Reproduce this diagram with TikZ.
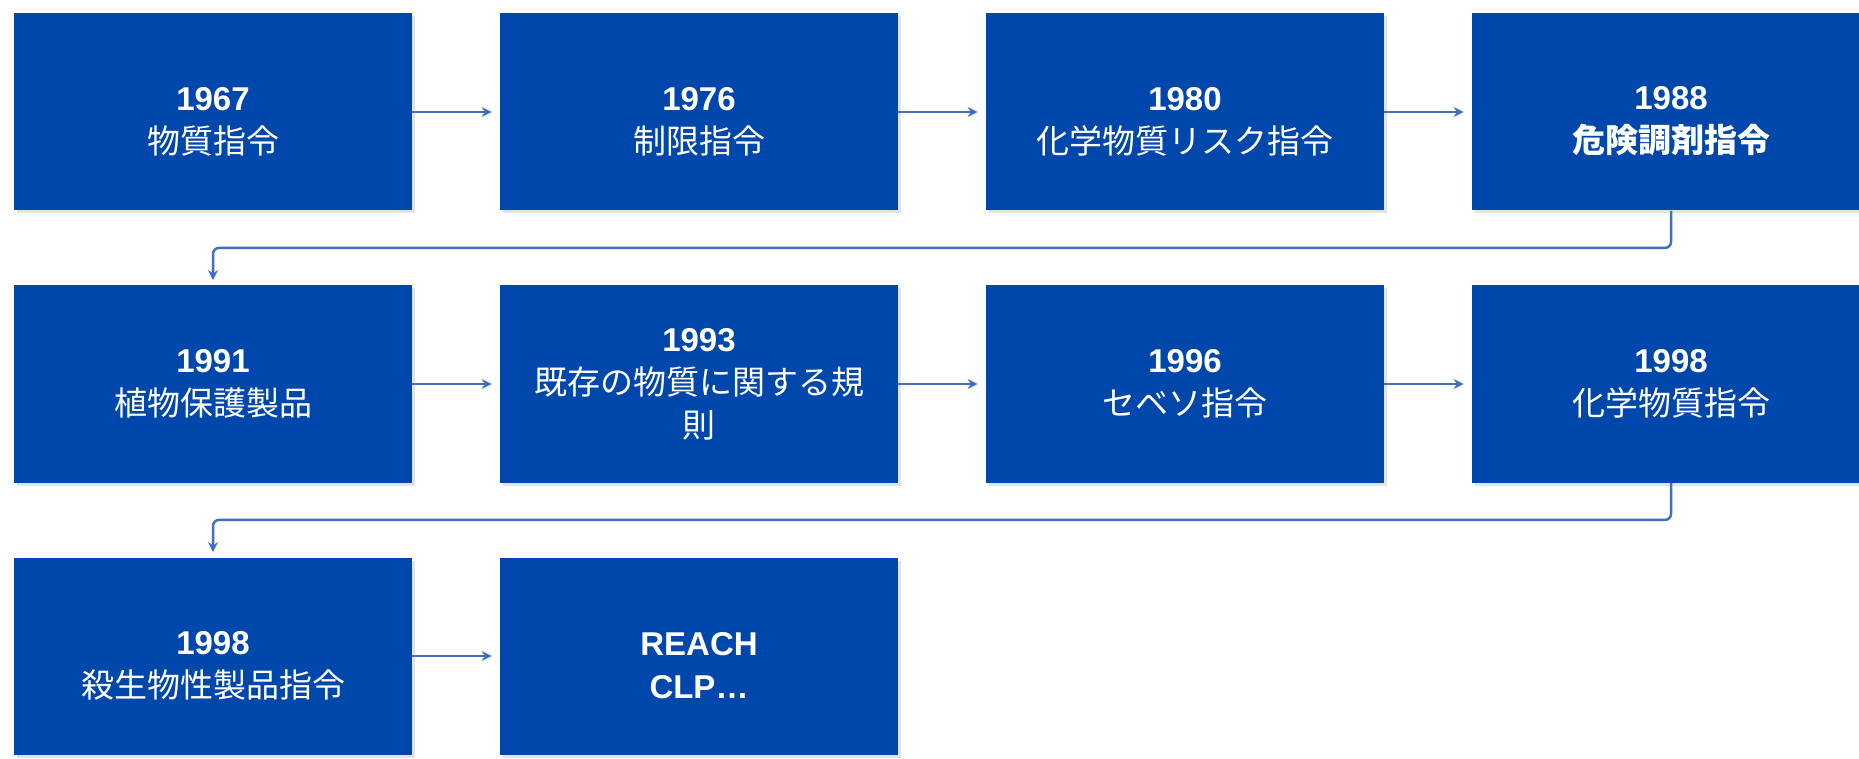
\documentclass[tikz,border=0pt]{standalone}
\usepackage{fontspec}
\setmainfont{Liberation Sans}
\newfontfamily\jp{Noto Sans CJK JP}
\usepackage{tikz}
\usetikzlibrary{arrows.meta,shadows}
\usetikzlibrary{positioning}
\definecolor{boxblue}{HTML}{0047AB}
\definecolor{lineblue}{HTML}{426FC2}
\newcommand{\lowyr}[1]{\rule{0pt}{21pt}\textbf{#1}}
\tikzset{every box/.style={rectangle, fill=boxblue, text=white, align=center,
    minimum width=199pt, minimum height=98.5pt, inner sep=0pt,
    font=\fontsize{16.5pt}{21.5pt}\selectfont,
    drop shadow={opacity=0.22, shadow xshift=1.5pt, shadow yshift=-1.5pt}},
  link/.style={draw=lineblue, line width=1.25pt, -{Stealth[length=5pt,width=5pt]}}
}

\begin{document}
\begin{tikzpicture}[node distance=136pt and 243pt, on grid]
      \useasboundingbox (0,0) rectangle (929.5pt,-379.5pt);
      \node[every box] (b_1) at (106.5pt,-56pt) {\lowyr{1967}\\{\jp 物質指令}};
      \node[every box] (b_2) [right=of b_1] {\lowyr{1976}\\{\jp 制限指令}};
      \node[every box] (b_3) [right=of b_2] {\lowyr{1980}\\{\jp 化学物質リスク指令}};
      \node[every box] (b_4) [right=of b_3] {\lowyr{1988}\\{\jp\bfseries 危険調剤指令}};
      \node[every box] (b_5) [below=of b_1] {\bfseries 1991\\{\jp 植物保護製品}};
      \node[every box] (b_6) [right=of b_5] {\bfseries 1993\\{\jp 既存の物質に関する規}\\{\jp 則}};
      \node[every box] (b_7) [right=of b_6] {\bfseries 1996\\{\jp セベソ指令}};
      \node[every box] (b_8) [right=of b_7] {\bfseries 1998\\{\jp 化学物質指令}};
      \node[every box] (b_9) [below=of b_5] {\lowyr{1998}\\{\jp 殺生物性製品指令}};
      \node[every box] (b_10) [right=of b_9] {\lowyr{REACH}\\\bfseries CLP\ldots};

      \path[link, shorten >=4pt] (b_1) edge (b_2)
                (b_2) edge (b_3)
                (b_3) edge (b_4)
                (b_5) edge (b_6)
                (b_6) edge (b_7)
                (b_7) edge (b_8)
                (b_9) edge (b_10);
      \draw[link, rounded corners=3pt, shorten >=2.5pt]
            (b_4.south) -- ++(0,-18.5pt) -| (b_5.north);
      \draw[link, rounded corners=3pt, shorten >=2.5pt]
            (b_8.south) -- ++(0,-18.5pt) -| (b_9.north);
    \end{tikzpicture}
\end{document}
